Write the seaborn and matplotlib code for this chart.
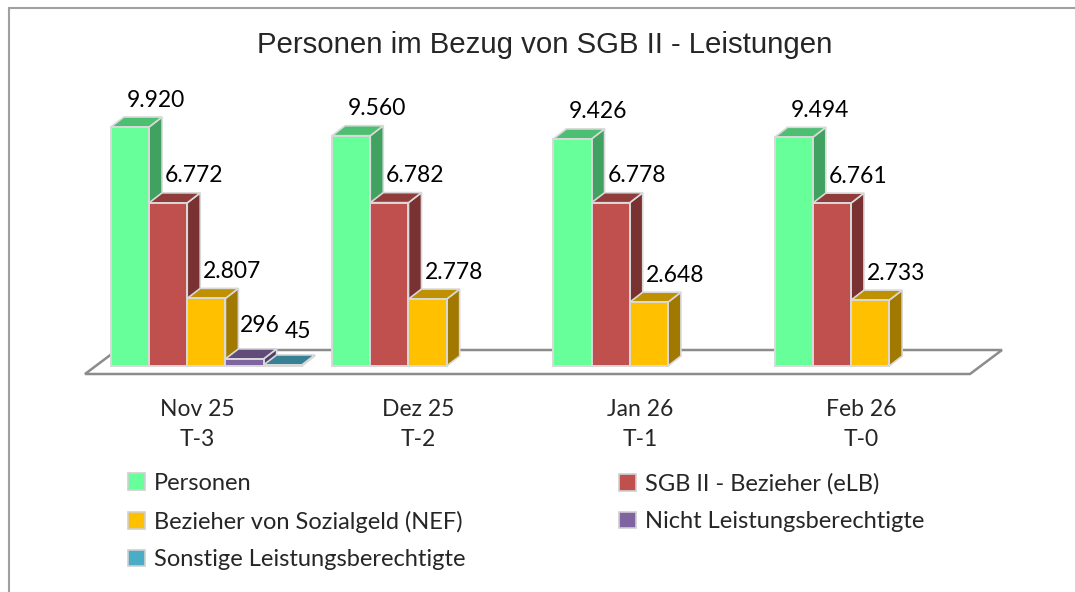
import numpy as np
import pandas as pd
import matplotlib
matplotlib.use("Agg")
import matplotlib.pyplot as plt
import seaborn as sns
from matplotlib.patches import Polygon, Patch
from matplotlib.lines import Line2D
from matplotlib.colors import to_rgb

# data
months = ["Nov 25", "Dez 25", "Jan 26", "Feb 26"]
periods = ["T-3", "T-2", "T-1", "T-0"]
series = ["Personen", "SGB II - Bezieher (eLB)", "Bezieher von Sozialgeld (NEF)",
          "Nicht Leistungsberechtigte", "Sonstige Leistungsberechtigte"]
personen = [9920, 9560, 9426, 9494]
elb = [6772, 6782, 6778, 6761]
nef = [2807, 2778, 2648, 2733]
nicht_lb = [296, None, None, None]
sonstige = [45, None, None, None]
colors = ["#66FF99", "#C0504D", "#FFC000", "#8064A2", "#4BACC6"]

rows = []
for name, vals in zip(series, [personen, elb, nef, nicht_lb, sonstige]):
    for m, v in zip(months, vals):
        if v is not None:
            rows.append({"Monat": m, "Reihe": name, "Wert": v})
df = pd.DataFrame(rows)

sns.set_style("white")
plt.rcParams['font.family'] = ['Lato', 'DejaVu Sans']

W, H = 1075, 592
fig = plt.figure(figsize=(W / 100, H / 100), dpi=100)
# axes placed so the bar base sits at y=366px, spanning 96..981px
ax_l, ax_r, base_px, top_px = 95.7, 980.7, 366, 101
ymax = 11000
ax = fig.add_axes([ax_l / W, (H - base_px) / H, (ax_r - ax_l) / W, (base_px - top_px) / H])

sns.barplot(data=df, x="Monat", y="Wert", hue="Reihe", order=months, hue_order=series,
            palette=colors, saturation=1, width=0.863, errorbar=None, edgecolor="#D9D9D9",
            linewidth=1.4, legend=False, ax=ax)
ax.set_xlim(-0.5, 3.5)
ax.set_ylim(0, ymax)
ax.axis("off")

# pixel -> data conversions
px_x = 4.0 / (ax_r - ax_l)
px_y = ymax / (base_px - top_px)

# depth of the bars
ddx, ddy = 13 * px_x, 10 * px_y


def shade(c, f):
    r, g, b = to_rgb(c)
    return (r * f, g * f, b * f)


# floor
fl = [(-0.5 - 10.7 * px_x, -8 * px_y), (3.5 - 10.7 * px_x, -8 * px_y),
      (3.5 + 21.3 * px_x, 16 * px_y), (-0.5 + 21.3 * px_x, 16 * px_y)]
ax.add_patch(Polygon(fl, closed=True, facecolor="white", edgecolor="#8C8C8C",
                     linewidth=1.8, zorder=1, clip_on=False))

bars = [p for p in ax.patches if isinstance(p, matplotlib.patches.Rectangle) and p.get_height() > 0]
bars.sort(key=lambda p: p.get_x())
for j, p in enumerate(bars):
    x0, w, h = p.get_x(), p.get_width(), p.get_height()
    x1 = x0 + w
    fc = p.get_facecolor()
    z = 2 + j * 0.01
    side = [(x1, 0), (x1 + ddx, ddy), (x1 + ddx, h + ddy), (x1, h)]
    top = [(x0, h), (x1, h), (x1 + ddx, h + ddy), (x0 + ddx, h + ddy)]
    ax.add_patch(Polygon(side, closed=True, facecolor=shade(fc, 0.63), edgecolor="#D9D9D9",
                         linewidth=1.2, zorder=z, clip_on=False))
    ax.add_patch(Polygon(top, closed=True, facecolor=shade(fc, 0.75), edgecolor="#D9D9D9",
                         linewidth=1.2, zorder=z, clip_on=False))
    p.set_zorder(z + 0.005)
    p.set_clip_on(False)
    label = f"{h:,.0f}".replace(",", ".")
    # small bars get their labels pulled in closer (as excel does)
    off_x, off_y = (26, 27) if h > 1000 else (15, 33)
    ax.text(x0 + w / 2 + off_x * px_x, h + off_y * px_y, label, ha="center", va="center",
            fontsize=16.5, color="black", zorder=10)

# category labels
for i, (m, t) in enumerate(zip(months, periods)):
    ax.text(i - 9 * px_x, -(410 - base_px) * px_y, m, ha="center", va="center", fontsize=16.5)
    ax.text(i - 9 * px_x, -(440 - base_px) * px_y, t, ha="center", va="center", fontsize=16.5)

fig.text(545 / W, 1 - 45 / H, "Personen im Bezug von SGB II - Leistungen",
         ha="center", va="center", fontsize=21.2, family=["Liberation Sans", "DejaVu Sans"])

# legend, two columns
handles = [Patch(facecolor=c, edgecolor="#D0D0D0", linewidth=1.2) for c in colors]
kw = dict(frameon=False, fontsize=17, handlelength=0.7, handleheight=0.7,
          handletextpad=0.4, labelspacing=0.7, borderaxespad=0, borderpad=0)
fig.legend([handles[0], handles[2], handles[4]], [series[0], series[2], series[4]],
           loc="upper left", bbox_to_anchor=(128 / W, 1 - 473 / H), **kw)
fig.legend([handles[1], handles[3]], [series[1], series[3]],
           loc="upper left", bbox_to_anchor=(619 / W, 1 - 473 / H), **kw)

# outer frame (left and top edges)
fig.add_artist(Line2D([8.5 / W, 8.5 / W], [0, 1 - 8 / H], color="#A0A0A0", linewidth=1.5))
fig.add_artist(Line2D([8.5 / W, 1], [1 - 8 / H, 1 - 8 / H], color="#A0A0A0", linewidth=1.5))

fig.savefig("out.png", dpi=100, facecolor="white")
plt.close(fig)
